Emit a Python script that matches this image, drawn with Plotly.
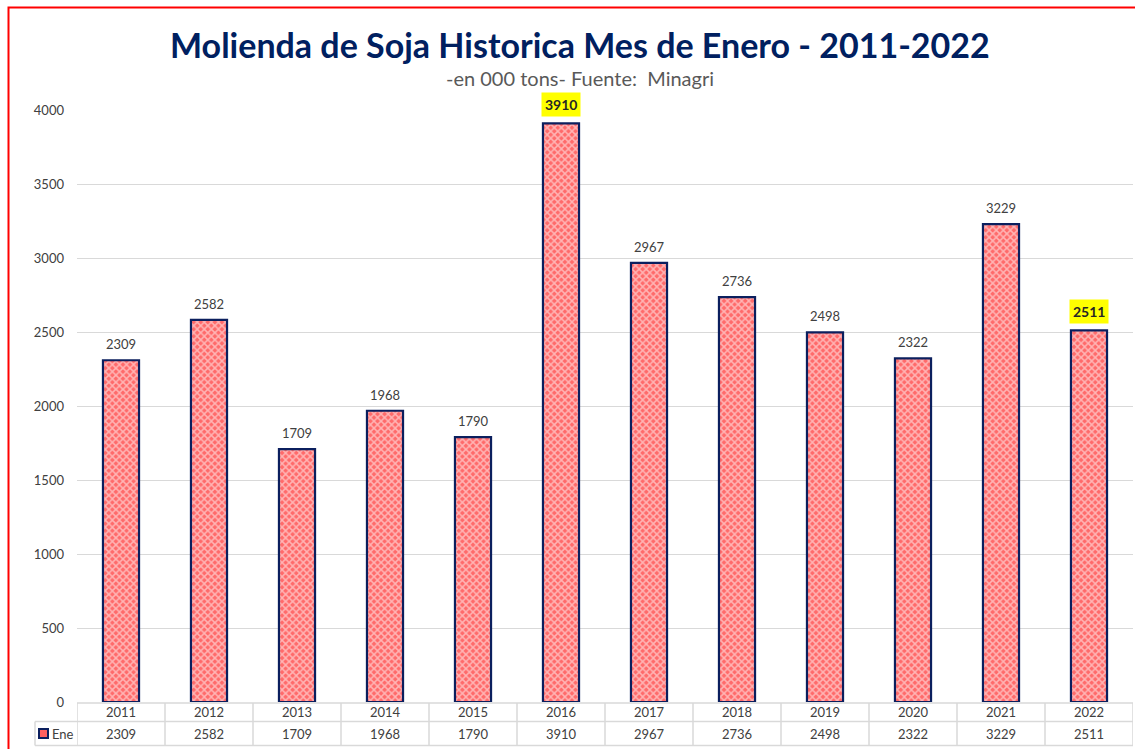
import plotly.graph_objects as go

years = ["2011", "2012", "2013", "2014", "2015", "2016", "2017", "2018", "2019", "2020", "2021", "2022"]
values = [2309, 2582, 1709, 1968, 1790, 3910, 2967, 2736, 2498, 2322, 3229, 2511]
highlight = ["2016", "2022"]
series_name = "Ene"
title = "Molienda de Soja Historica Mes de Enero - 2011-2022"
subtitle = "-en 000 tons- Fuente:  Minagri"

W, H = 1135, 749
L, R, T, B = 77, 2, 110, 47
plot_h = H - T - B
plot_w = W - L - R

def py(p):  # pixel y -> paper
    return (H - B - p) / plot_h

def px(p):  # pixel x -> paper
    return (p - L) / plot_w

navy = "#0b1f5e"
grid = "#d9d9d9"
txt = "#404040"
FONT = "Lato"

fig = go.Figure()
fig.add_trace(go.Bar(
    x=list(range(len(years))), y=values, name=series_name,
    width=0.41,
    marker=dict(color="#ff7070",
                line=dict(color=navy, width=2.2),
                pattern=dict(shape="x", fgcolor="#ffffff", bgcolor="#ff6a6a", size=5, solidity=0.5)),
    hoverinfo="x+y",
))

ann = []
for i, (yr, v) in enumerate(zip(years, values)):
    if yr in highlight:
        ann.append(dict(x=i, y=v, xref="x", yref="y", text=f"<b>{v}</b>", showarrow=False,
                        yanchor="bottom", yshift=6, bgcolor="#ffff00",
                        font=dict(family=FONT, size=14, color="#262626"), borderpad=3))
    else:
        ann.append(dict(x=i, y=v, xref="x", yref="y", text=str(v), showarrow=False,
                        yanchor="bottom", yshift=6,
                        font=dict(family=FONT, size=13, color=txt)))
    # table
    ann.append(dict(x=i, y=py(712), xref="x", yref="paper", text=yr, showarrow=False,
                    yanchor="middle", font=dict(family=FONT, size=13, color=txt)))
    ann.append(dict(x=i, y=py(733.5), xref="x", yref="paper", text=str(v), showarrow=False,
                    yanchor="middle", font=dict(family=FONT, size=13, color=txt)))

ann.append(dict(x=px(50), y=py(733.5), xref="paper", yref="paper", text=series_name, showarrow=False,
                xanchor="left", yanchor="middle", font=dict(family=FONT, size=13, color=txt)))
ann.append(dict(x=px(580), y=py(44), xref="paper", yref="paper", text=f"<b>{title}</b>", showarrow=False,
                xanchor="center", yanchor="middle", font=dict(family=FONT, size=34, color="#002060")))
ann.append(dict(x=px(580), y=py(78), xref="paper", yref="paper", text=subtitle, showarrow=False,
                xanchor="center", yanchor="middle", font=dict(family=FONT, size=20, color="#595959")))

shapes = []
# table horizontal lines
for yy, x0 in [(703, L), (721.5, 35), (745.5, 35)]:
    shapes.append(dict(type="line", xref="paper", yref="paper", x0=px(x0), x1=px(1133),
                       y0=py(yy), y1=py(yy), line=dict(color=grid, width=1.5)))
# vertical lines
for k in range(len(years) + 1):
    shapes.append(dict(type="line", xref="x", yref="paper", x0=k - 0.5, x1=k - 0.5,
                       y0=py(703), y1=py(745.5), line=dict(color=grid, width=1.5)))
shapes.append(dict(type="line", xref="paper", yref="paper", x0=px(35), x1=px(35),
                   y0=py(721.5), y1=py(745.5), line=dict(color=grid, width=1.5)))
# legend swatch
shapes.append(dict(type="rect", xref="paper", yref="paper", x0=px(39), x1=px(48),
                   y0=py(738), y1=py(729), fillcolor="#ff6060", line=dict(color=navy, width=2)))
# red frame
shapes.append(dict(type="rect", xref="paper", yref="paper", x0=px(8.5), x1=px(1140),
                   y0=py(760), y1=py(7.5), line=dict(color="#ff0000", width=2), layer="above"))

fig.update_layout(
    width=W, height=H, autosize=False,
    margin=dict(l=L, r=R, t=T, b=B),
    plot_bgcolor="#ffffff", paper_bgcolor="#ffffff",
    showlegend=False,
    annotations=ann, shapes=shapes,
    xaxis=dict(range=[-0.5, len(years) - 0.5], showticklabels=False, showgrid=False,
               zeroline=False, showline=False, fixedrange=True),
    yaxis=dict(range=[0, 4000], dtick=500, showgrid=True, gridcolor=grid, gridwidth=1,
               zeroline=False, showline=False, ticks="", ticklabelstandoff=12,
               tickfont=dict(family=FONT, size=13, color=txt)),
    bargap=0.59,
)

fig.write_html("out.html", config={"displayModeBar": False},
               post_script="document.body.style.margin='0';document.body.style.overflow='hidden';")
